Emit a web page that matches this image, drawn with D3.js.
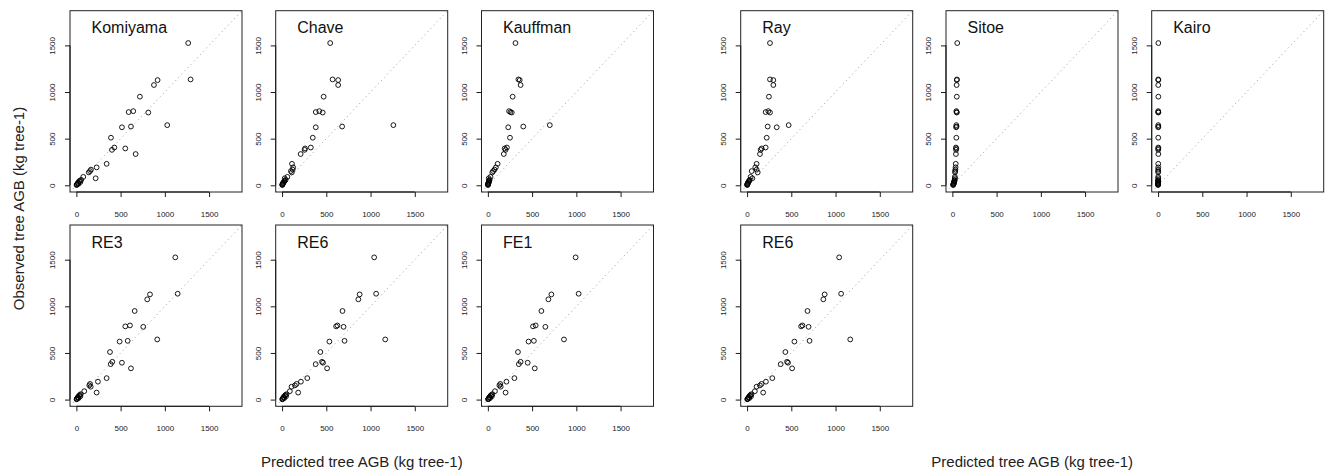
<!DOCTYPE html>
<html><head><meta charset="utf-8">
<script src="https://cdn.jsdelivr.net/npm/d3@7"></script>
<style>body{margin:0;background:#fff}svg{display:block}text{font-family:"Liberation Sans",Arial,Helvetica,sans-serif}</style>
</head><body><svg id="c" width="1325" height="472"></svg>
<script>
// Observed tree AGB (kg tree-1), same trees in every panel
const observed = [1525,1135,1128,1075,950,795,785,780,645,630,622,510,405,395,380,335,230,192,168,152,138,90,75,58,50,42,35,28,22,16,10,6,3];
// Predicted tree AGB per model
const komiyama = [1264,1291,918,877,718,643,591,813,1027,617,515,391,429,553,402,670,342,229,165,154,140,78,218,55,40,30,45,20,15,25,8,5,2];
const chave    = [544,571,634,634,470,421,381,459,1258,679,381,347,325,260,255,210,112,125,120,100,110,60,30,40,30,25,20,15,10,8,5,3,2];
const kauffman = [312,345,360,370,280,240,255,270,700,400,230,250,215,190,200,180,110,90,75,60,50,30,10,20,15,10,12,8,5,4,3,2,1];
const ray      = [259,259,297,297,247,240,210,259,470,233,335,222,210,165,153,146,108,93,108,52,120,40,60,30,25,20,15,10,8,5,3,2,1];
const sitoe    = [55,52,50,48,50,45,48,50,45,47,42,45,40,44,42,40,38,36,34,32,30,28,30,26,24,22,20,18,16,14,12,10,8];
const kairo    = [3,2,3,2,3,2,2,3,2,3,2,2,3,2,2,3,2,2,1,2,1,1,2,1,1,1,1,0,1,0,1,0,0];
const re3      = [1118,1145,832,801,659,606,553,756,914,580,489,380,406,515,388,617,342,244,154,146,162,89,229,50,40,30,45,20,15,25,8,5,2];
const re6      = [1041,1063,877,862,683,626,611,695,1166,706,535,433,452,463,380,509,285,213,164,145,107,88,182,50,40,30,45,20,15,25,8,5,2];
const fe1      = [992,1026,718,684,605,540,510,650,860,520,460,340,370,450,350,530,300,210,140,130,145,80,200,50,40,30,45,20,15,25,8,5,2];

const panelTitles = ["Komiyama","Chave","Kauffman","RE3","RE6","FE1","Ray","Sitoe","Kairo","RE6"];
const panelData   = [komiyama,chave,kauffman,re3,re6,fe1,ray,sitoe,kairo,re6];
const tickValues  = [0,500,1000,1500];
const axisLimits  = [0,1800];
const xTitle = "Predicted tree AGB (kg tree-1)";
const yTitle = "Observed tree AGB (kg tree-1)";

// layout
const colLeft = [[70,275.7,481.5],[740.7,946,1151.7]];
const rowTop = [10.7,225];
const pw = 172, ph = 181.3;
const slots = [[0,0,0],[0,0,1],[0,0,2],[0,1,0],[0,1,1],[0,1,2],[1,0,0],[1,0,1],[1,0,2],[1,1,0]];

const svg = d3.select("#c");
const pad = (axisLimits[1]-axisLimits[0])*0.04;
const dom = [axisLimits[0]-pad, axisLimits[1]+pad];

panelData.forEach((pred,i)=>{
  const [g,r,c] = slots[i];
  const x0 = colLeft[g][c], y0 = rowTop[r];
  const x = d3.scaleLinear().domain(dom).range([0,pw]);
  const y = d3.scaleLinear().domain(dom).range([ph,0]);
  const p = svg.append("g").attr("transform",`translate(${x0},${y0})`);
  const clipId = "clip"+i;
  p.append("clipPath").attr("id",clipId).append("rect").attr("width",pw).attr("height",ph);
  // 1:1 line
  p.append("line").attr("clip-path",`url(#${clipId})`)
    .attr("x1",x(dom[0])).attr("y1",y(dom[0])).attr("x2",x(dom[1])).attr("y2",y(dom[1]))
    .attr("stroke","#a8a8a8").attr("stroke-width",1).attr("stroke-dasharray","1.2,3.3");
  // points
  p.selectAll("circle").data(pred.map((v,k)=>[v,observed[k]])).join("circle")
    .attr("cx",d=>x(d[0])).attr("cy",d=>y(d[1])).attr("r",2.4)
    .attr("fill","none").attr("stroke","#000").attr("stroke-width",0.9);
  // axes
  const ax = p.append("g").attr("transform",`translate(0,${ph})`)
    .call(d3.axisBottom(x).tickValues(tickValues).tickSize(5).tickPadding(14).tickFormat(d3.format("d")));
  const ay = p.append("g")
    .call(d3.axisLeft(y).tickValues(tickValues).tickSize(5).tickPadding(10).tickFormat(d3.format("d")));
  [ax,ay].forEach(a=>{
    a.select(".domain").remove();
    a.selectAll("line").attr("stroke","#000").attr("stroke-width",0.9);
    a.selectAll("text").attr("font-size",8).attr("fill","#222").attr("font-family","Liberation Sans, Arial, sans-serif");
  });
  ay.selectAll(".tick text").attr("text-anchor","middle").attr("dy",null).attr("x",null)
    .attr("transform","translate(-17,0) rotate(-90)").attr("dominant-baseline","middle");
  // axis lines
  p.append("line").attr("x1",x(0)).attr("x2",x(1500)).attr("y1",ph).attr("y2",ph).attr("stroke","#000");
  p.append("line").attr("y1",y(0)).attr("y2",y(1500)).attr("x1",0).attr("x2",0).attr("stroke","#000");
  // box
  p.append("rect").attr("width",pw).attr("height",ph).attr("fill","none").attr("stroke","#222").attr("stroke-width",1);
  // title
  p.append("text").attr("x",21.5).attr("y",22.5).attr("font-size",16).attr("fill","#111").text(panelTitles[i]);
});

// axis titles
svg.append("text").attr("transform","translate(24,208.5) rotate(-90)").attr("text-anchor","middle")
  .attr("font-size",15).attr("fill","#222").text(yTitle);
[[361.8],[1032.2]].forEach(([cx])=>{
  svg.append("text").attr("x",cx).attr("y",467).attr("text-anchor","middle")
    .attr("font-size",15).attr("fill","#222").text(xTitle);
});
</script></body></html>
